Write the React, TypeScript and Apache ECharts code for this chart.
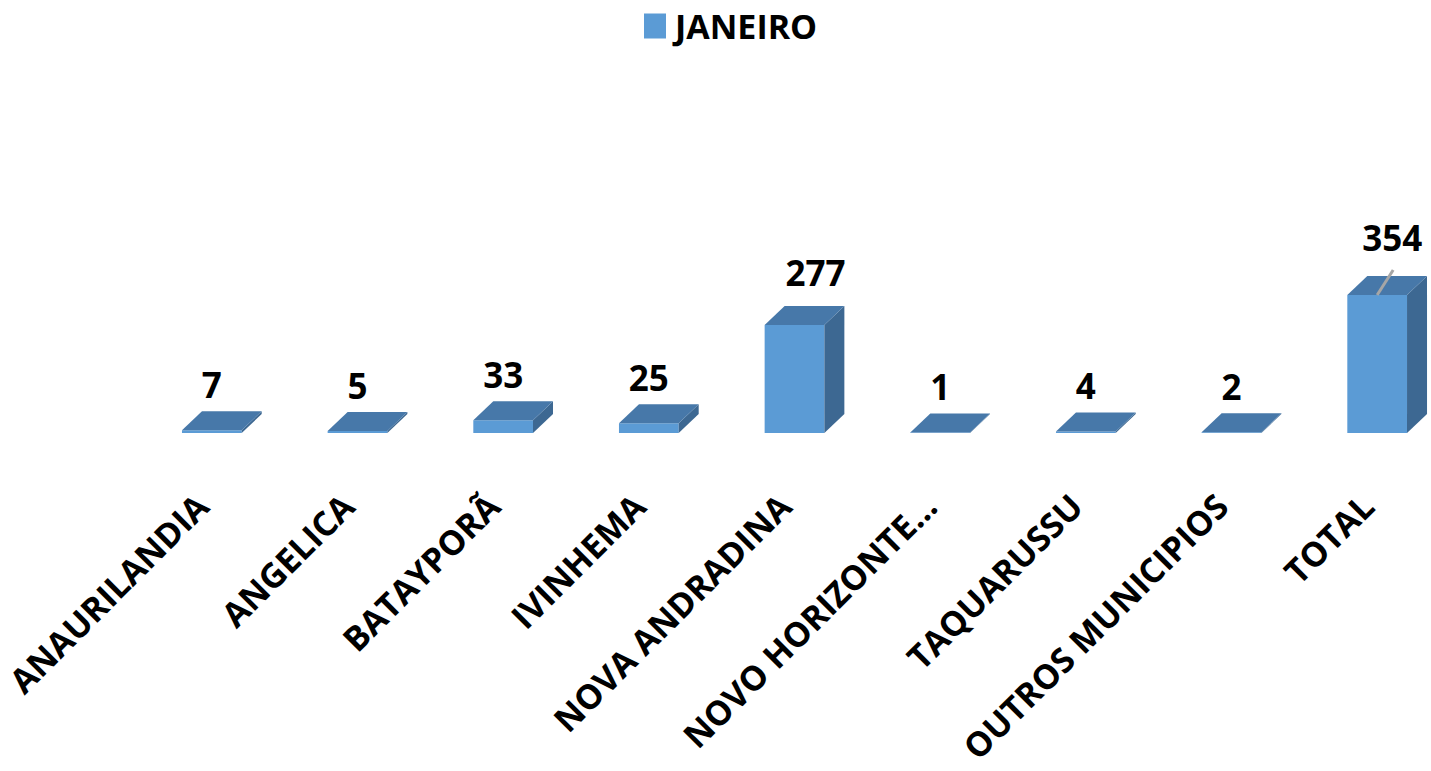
import React, { useEffect, useRef } from "react";
import * as echarts from "echarts";

const categories = [
  "ANAURILANDIA",
  "ANGELICA",
  "BATAYPORÃ",
  "IVINHEMA",
  "NOVA ANDRADINA",
  "NOVO HORIZONTE...",
  "TAQUARUSSU",
  "OUTROS MUNICIPIOS",
  "TOTAL",
];
const janeiro = [7, 5, 33, 25, 277, 1, 4, 2, 354];
const seriesName = "JANEIRO";

// label nudges (pixels) for labels that were moved in the original
const labelNudge: Record<string, [number, number]> = {
  "NOVA ANDRADINA": [21, -6],
  TOTAL: [15, -11],
};
const leaderLineFor = ["TOTAL"];

const FONT = "'Open Sans', 'Liberation Sans', sans-serif";
const FRONT = "#5B9BD5";
const TOP = "#4778A9";
const SIDE = "#3D6892";
const DX = 20;
const DY = -19;

export default function App() {
  const ref = useRef<HTMLDivElement>(null);
  useEffect(() => {
    if (!ref.current) return;
    const chart = echarts.init(ref.current, null, { renderer: "svg" });
    const option: any = {
      animation: false,
      backgroundColor: "#ffffff",
      legend: {
        data: [seriesName],
        left: 644,
        top: 9,
        padding: 0,
        icon: "rect",
        itemWidth: 22,
        itemHeight: 25,
        itemGap: 10,
        textStyle: {
          fontFamily: FONT,
          fontWeight: "bold",
          fontSize: 34,
          color: "#000",
          padding: [0, 0, 0, 4],
        },
      },
      grid: { left: 139, width: 1311, top: 277, height: 156 },
      xAxis: {
        type: "category",
        data: categories,
        axisLine: { show: false },
        axisTick: { show: false },
        splitLine: { show: false },
        axisLabel: {
          interval: 0,
          rotate: 45,
          margin: 57,
          padding: [0, 14, 0, 0],
          fontFamily: FONT,
          fontWeight: "bold",
          fontSize: 34,
          color: "#000",
        },
      },
      yAxis: {
        type: "value",
        min: 0,
        max: 400,
        show: false,
        splitLine: { show: false },
      },
      series: [
        {
          type: "custom",
          name: seriesName,
          itemStyle: { color: FRONT },
          encode: { x: 0, y: 1 },
          data: janeiro.map((v, i) => [i, v]),
          renderItem: (params: any, api: any) => {
            const i = api.value(0);
            const v = api.value(1);
            const base = api.coord([i, 0]);
            const top = api.coord([i, v]);
            const bw = api.size([1, 0])[0] * 0.41;
            const x0 = base[0] - bw / 2;
            const x1 = base[0] + bw / 2;
            const yb = base[1];
            const yt = top[1];
            const name = categories[i];
            const nudge = labelNudge[name] || [0, 0];
            const children: any[] = [
              {
                type: "rect",
                shape: { x: x0, y: yt, width: bw, height: Math.max(yb - yt, 0) },
                style: { fill: FRONT },
              },
              {
                type: "polygon",
                shape: {
                  points: [
                    [x1, yt],
                    [x1 + DX, yt + DY],
                    [x1 + DX, yb + DY],
                    [x1, yb],
                  ],
                },
                style: { fill: SIDE },
              },
              {
                type: "polygon",
                shape: {
                  points: [
                    [x0, yt],
                    [x1, yt],
                    [x1 + DX, yt + DY],
                    [x0 + DX, yt + DY],
                  ],
                },
                style: { fill: TOP },
              },
            ];
            if (leaderLineFor.includes(name)) {
              children.push({
                type: "line",
                shape: { x1: base[0], y1: yt, x2: base[0] + 16, y2: yt - 25 },
                style: { stroke: "#A6A6A6", lineWidth: 3 },
              });
            }
            children.push({
              type: "text",
              x: base[0] + nudge[0],
              y: yt + DY - 27 + nudge[1],
              style: {
                text: String(v),
                fontFamily: FONT,
                fontWeight: "bold",
                fontSize: 35,
                fill: "#000",
                align: "center",
                verticalAlign: "middle",
              },
            });
            return { type: "group", children };
          },
        },
      ],
    };
    chart.setOption(option);
    return () => chart.dispose();
  }, []);
  return (
    <div
      ref={ref}
      style={{ position: "fixed", left: 0, top: 0, width: 1460, height: 771, background: "#fff" }}
    />
  );
}
